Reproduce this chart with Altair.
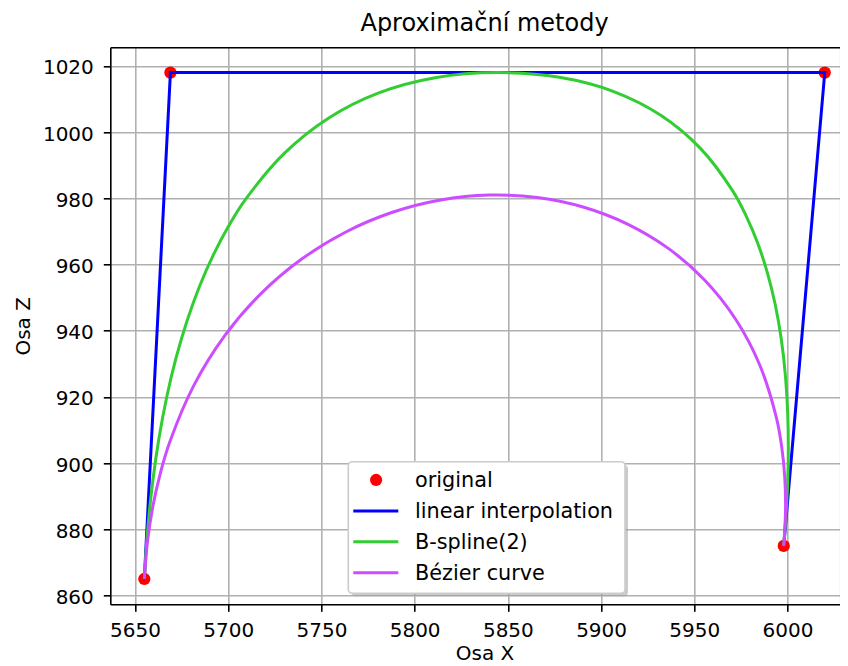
import altair as alt
import pandas as pd

# ---- data ----
orig_x = [5655, 5669, 6020, 5998]
orig_z = [865, 1018, 1018, 875]

bspline_x = [5655.00, 5656.80, 5659.42, 5662.83, 5667.06, 5672.09, 5677.94, 5684.58,
             5692.04, 5700.30, 5709.38, 5729.94, 5753.74, 5780.76, 5811.02, 5844.50,
             5877.63, 5906.80, 5932.03, 5953.30, 5970.63, 5977.80, 5984.00, 5989.20,
             5993.43, 5996.65, 5998.90, 6000.15, 6000.43, 5999.70, 5998.00]
bspline_z = [865.00, 879.92, 894.07, 907.46, 920.08, 931.94, 943.03, 953.36,
             962.92, 971.72, 979.75, 993.52, 1004.23, 1011.88, 1016.47, 1018.00,
             1016.57, 1012.28, 1005.13, 995.12, 982.25, 974.74, 966.52, 957.58,
             947.93, 937.56, 926.48, 914.68, 902.17, 888.94, 875.00]

bezier_x = [5655.00, 5656.67, 5659.54, 5663.54, 5668.60, 5681.65, 5698.16, 5717.59,
            5739.42, 5763.11, 5788.12, 5813.93, 5840.00, 5865.80, 5890.80, 5914.46,
            5936.26, 5955.66, 5972.12, 5985.12, 5994.12, 5996.95, 5998.59, 5998.96, 5998.00]
bezier_z = [865.00, 876.19, 886.80, 896.85, 906.32, 923.56, 938.52, 951.22,
            961.66, 969.85, 975.80, 979.51, 981.00, 980.26, 977.32, 972.17,
            964.82, 955.28, 943.56, 929.66, 913.60, 904.76, 895.37, 885.46, 875.00]

x_ticks = [5650, 5700, 5750, 5800, 5850, 5900, 5950, 6000]
z_ticks = [860, 880, 900, 920, 940, 960, 980, 1000, 1020]

leg_labels = ["original", "linear interpolation", "B-spline(2)", "Bézier curve"]
leg_colors = ["#ff0000", "#0000ff", "#32cd32", "#cc4dff"]

FONT = "DejaVu Sans"
W, H = 729.5, 557

orig_df = pd.DataFrame({"x": orig_x, "z": orig_z, "i": range(len(orig_x))})
bs_df = pd.DataFrame({"x": bspline_x, "z": bspline_z, "i": range(len(bspline_x))})
bz_df = pd.DataFrame({"x": bezier_x, "z": bezier_z, "i": range(len(bezier_x))})

xscale = alt.Scale(domain=[5636.75, 6028.07], nice=False, zero=False)
yscale = alt.Scale(domain=[857.35, 1025.65], nice=False, zero=False)

common_axis = dict(
    labelFont=FONT, labelFontSize=20, labelColor="#000000",
    tickSize=7, tickWidth=1.6, tickColor="#000000",
    domainColor="#000000", domainWidth=1.6,
    grid=True, gridColor="#b0b0b0", gridWidth=1.6,
    titleFont=FONT, titleFontSize=20, titleFontWeight="normal", titleColor="#000000",
)

x_axis = alt.Axis(values=x_ticks, format="d", orient="bottom", labelPadding=9,
                  title="Osa X", titleX=374.2, titleY=55.5, titleAlign="center",
                  titleBaseline="alphabetic", labelFlush=False, labelOverlap=False,
                  **common_axis)
y_axis = alt.Axis(values=z_ticks, format="d", labelPadding=10, labelOffset=2,
                  title="Osa Z", titleX=-81, titleY=278.5, titleAngle=270,
                  titleAlign="center", titleBaseline="alphabetic",
                  labelFlush=False, labelOverlap=False, **common_axis)
top_axis = alt.Axis(orient="top", labels=False, ticks=False, grid=False, domain=True,
                    domainColor="#000000", domainWidth=1.6, title=None)

X = alt.X("x:Q", scale=xscale, axis=x_axis)
Y = alt.Y("z:Q", scale=yscale, axis=y_axis)

pts = alt.Chart(orig_df).mark_circle(size=150, color=leg_colors[0], opacity=1).encode(x=X, y=Y)
lin = alt.Chart(orig_df).mark_line(color=leg_colors[1], strokeWidth=3).encode(x=X, y=Y, order="i:Q")
bsp = alt.Chart(bs_df).mark_line(color=leg_colors[2], strokeWidth=3,
                                 interpolate="catmull-rom").encode(x=X, y=Y, order="i:Q")
bez = alt.Chart(bz_df).mark_line(color=leg_colors[3], strokeWidth=3,
                                 interpolate="catmull-rom").encode(x=X, y=Y, order="i:Q")

inner = alt.layer(pts, lin, bsp, bez)

top = alt.Chart(orig_df).mark_circle(opacity=0).encode(
    x=alt.X("x:Q", scale=xscale, axis=top_axis), y=Y)

# ---- legend (drawn as guide marks) ----
one = pd.DataFrame({"a": [0]})
LX0, LX1, LY0, LY1 = 238.0, 514.7, 414.4, 546.0
rows = [432.7, 463.6, 494.5, 525.4]
H0, H1, HC, TX = 243.0, 288.0, 265.8, 304.7
LFS = 20.8

legend_layers = [
    alt.Chart(one).mark_rect(color="#a0a0a0", opacity=0.55, cornerRadius=4).encode(
        x=alt.value(LX0 + 3), x2=alt.value(LX1 + 3), y=alt.value(LY0 + 3), y2=alt.value(LY1 + 3)),
    alt.Chart(one).mark_rect(fill="#ffffff", stroke="#cccccc", strokeWidth=1.6,
                             cornerRadius=4).encode(
        x=alt.value(LX0), x2=alt.value(LX1), y=alt.value(LY0), y2=alt.value(LY1)),
    alt.Chart(one).mark_circle(size=150, color=leg_colors[0], opacity=1).encode(
        x=alt.value(HC), y=alt.value(rows[0])),
]
for k in (1, 2, 3):
    legend_layers.append(
        alt.Chart(one).mark_rule(color=leg_colors[k], strokeWidth=3).encode(
            x=alt.value(H0), x2=alt.value(H1), y=alt.value(rows[k])))
for k, lab in enumerate(leg_labels):
    legend_layers.append(
        alt.Chart(one).mark_text(text=lab, font=FONT, fontSize=LFS, color="#000000",
                                 align="left", baseline="alphabetic").encode(
            x=alt.value(TX), y=alt.value(rows[k] + 7)))

chart = alt.layer(inner, top, *legend_layers).resolve_axis(x="independent").properties(
    width=W, height=H,
    title=alt.TitleParams("Aproximační metody", font=FONT, fontSize=24, fontWeight="normal",
                          color="#000000", anchor="middle", dx=9.5, offset=-8,
                          baseline="alphabetic"),
    autosize=alt.AutoSizeParams(type="none"),
    padding={"left": 102.3, "top": 39.3, "right": 0, "bottom": 60.5},
).configure_view(stroke="transparent", strokeWidth=0).configure(background="#ffffff")

chart.save("out.html", embed_options={"renderer": "svg", "actions": False})
